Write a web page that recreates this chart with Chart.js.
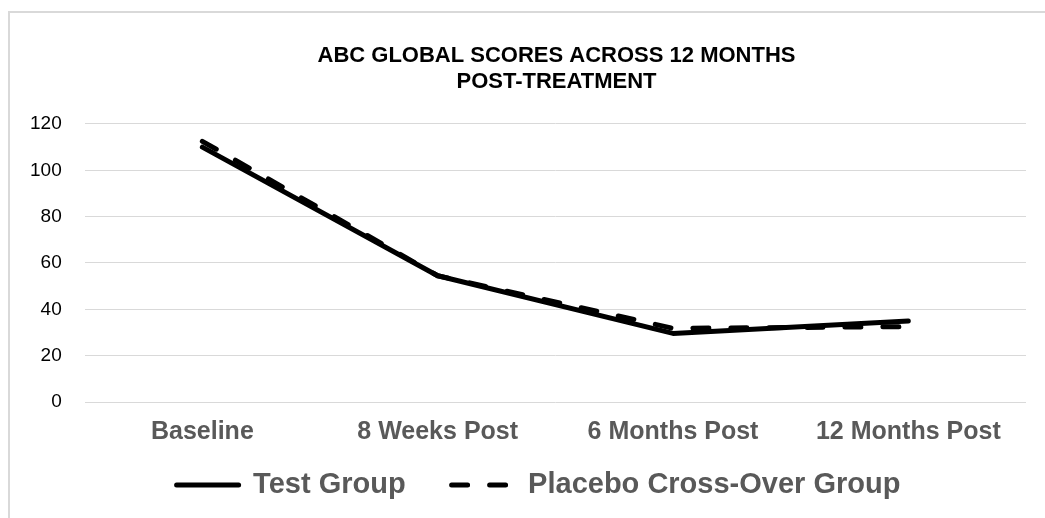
<!DOCTYPE html>
<html lang="en">
<head>
  <meta charset="UTF-8">
  <title>ABC Global Scores</title>
  <script src="https://cdn.jsdelivr.net/npm/chart.js"></script>
  <style>
    html, body { margin: 0; padding: 0; background: #fff; overflow: hidden; }
    #frame { position: absolute; left: 8px; top: 11px; width: 1200px; height: 600px;
             border-left: 2px solid #d9d9d9; border-top: 2px solid #d9d9d9; }
    #wrap { position: absolute; left: 0; top: 0; width: 1112px; height: 518px; }
  </style>
</head>
<body>
  <div id="frame"></div>
  <div id="wrap"><canvas id="scoreChart"></canvas></div>

  <script>
    // values
    const timepoints = ['Baseline', '8 Weeks Post', '6 Months Post', '12 Months Post'];
    const testGroup = [110, 54.5, 29.6, 35];
    const placeboGroup = [112.5, 54.5, 31.8, 32.5];
    const yTicks = [0, 20, 40, 60, 80, 100, 120];

    // the reference centres title and legend off the plot centre and packs
    // the legend tighter under the axis labels, so nudge those boxes
    const boxShift = {
      id: 'boxShift',
      afterLayout(chart) {
        chart.titleBlock.left += 40;
        chart.titleBlock.right += 40;
        chart.legend.left += 22;
        chart.legend.right += 22;
        const dy = (485 - 46 - 14.5) - chart.legend.top;
        chart.legend.top += dy;
        chart.legend.bottom += dy;
      }
    };

    const ctx = document.getElementById('scoreChart').getContext('2d');
    new Chart(ctx, {
      type: 'line',
      data: {
        labels: timepoints,
        datasets: [{
          label: 'Test Group',
          data: testGroup,
          borderColor: '#000',
          backgroundColor: '#000',
          borderWidth: 5,
          borderCapStyle: 'round',
          borderJoinStyle: 'round',
          pointRadius: 0,
          tension: 0
        }, {
          label: 'Placebo Cross-Over Group',
          data: placeboGroup,
          borderColor: '#000',
          backgroundColor: '#000',
          borderWidth: 5,
          borderDash: [16, 22],
          borderCapStyle: 'round',
          borderJoinStyle: 'round',
          pointRadius: 0,
          tension: 0
        }]
      },
      options: {
        responsive: true,
        maintainAspectRatio: false,
        animation: false,
        layout: { padding: { left: 7, right: 86, top: 0, bottom: -29 } },
        plugins: {
          title: {
            display: true,
            text: ['ABC GLOBAL SCORES ACROSS 12 MONTHS', 'POST-TREATMENT'],
            color: '#000',
            font: { family: 'Liberation Sans, Arial, sans-serif', size: 22, weight: 'bold', lineHeight: 1.18 },
            padding: { top: 43, bottom: 29 }
          },
          legend: {
            position: 'bottom',
            labels: {
              usePointStyle: true,
              pointStyle: 'line',
              pointStyleWidth: 62,
              padding: 46,
              color: '#595959',
              font: { family: 'Liberation Sans, Arial, sans-serif', size: 29, weight: 'bold' },
              // point style legends lose the dash, so copy it back from the dataset
              generateLabels(chart) {
                const items = Chart.defaults.plugins.legend.labels.generateLabels(chart);
                items.forEach(item => {
                  const ds = chart.data.datasets[item.datasetIndex];
                  item.lineDash = ds.borderDash || [];
                  item.lineCap = 'round';
                  item.lineWidth = ds.borderWidth;
                  item.strokeStyle = ds.borderColor;
                });
                return items;
              }
            }
          },
          tooltip: { enabled: false }
        },
        scales: {
          x: {
            offset: true,
            grid: { display: false, drawTicks: false },
            border: { display: false },
            ticks: {
              padding: 15,
              color: '#595959',
              font: { family: 'Liberation Sans, Arial, sans-serif', size: 25, weight: 'bold' }
            }
          },
          y: {
            min: yTicks[0],
            max: yTicks[yTicks.length - 1],
            afterBuildTicks(scale) { scale.ticks = yTicks.map(v => ({ value: v })); },
            grid: { color: '#d9d9d9', lineWidth: 1, drawTicks: false },
            border: { display: false },
            ticks: {
              padding: 23,
              color: '#000',
              font: { family: 'Liberation Sans, Arial, sans-serif', size: 19 }
            }
          }
        }
      },
      plugins: [boxShift]
    });
  </script>
</body>
</html>
